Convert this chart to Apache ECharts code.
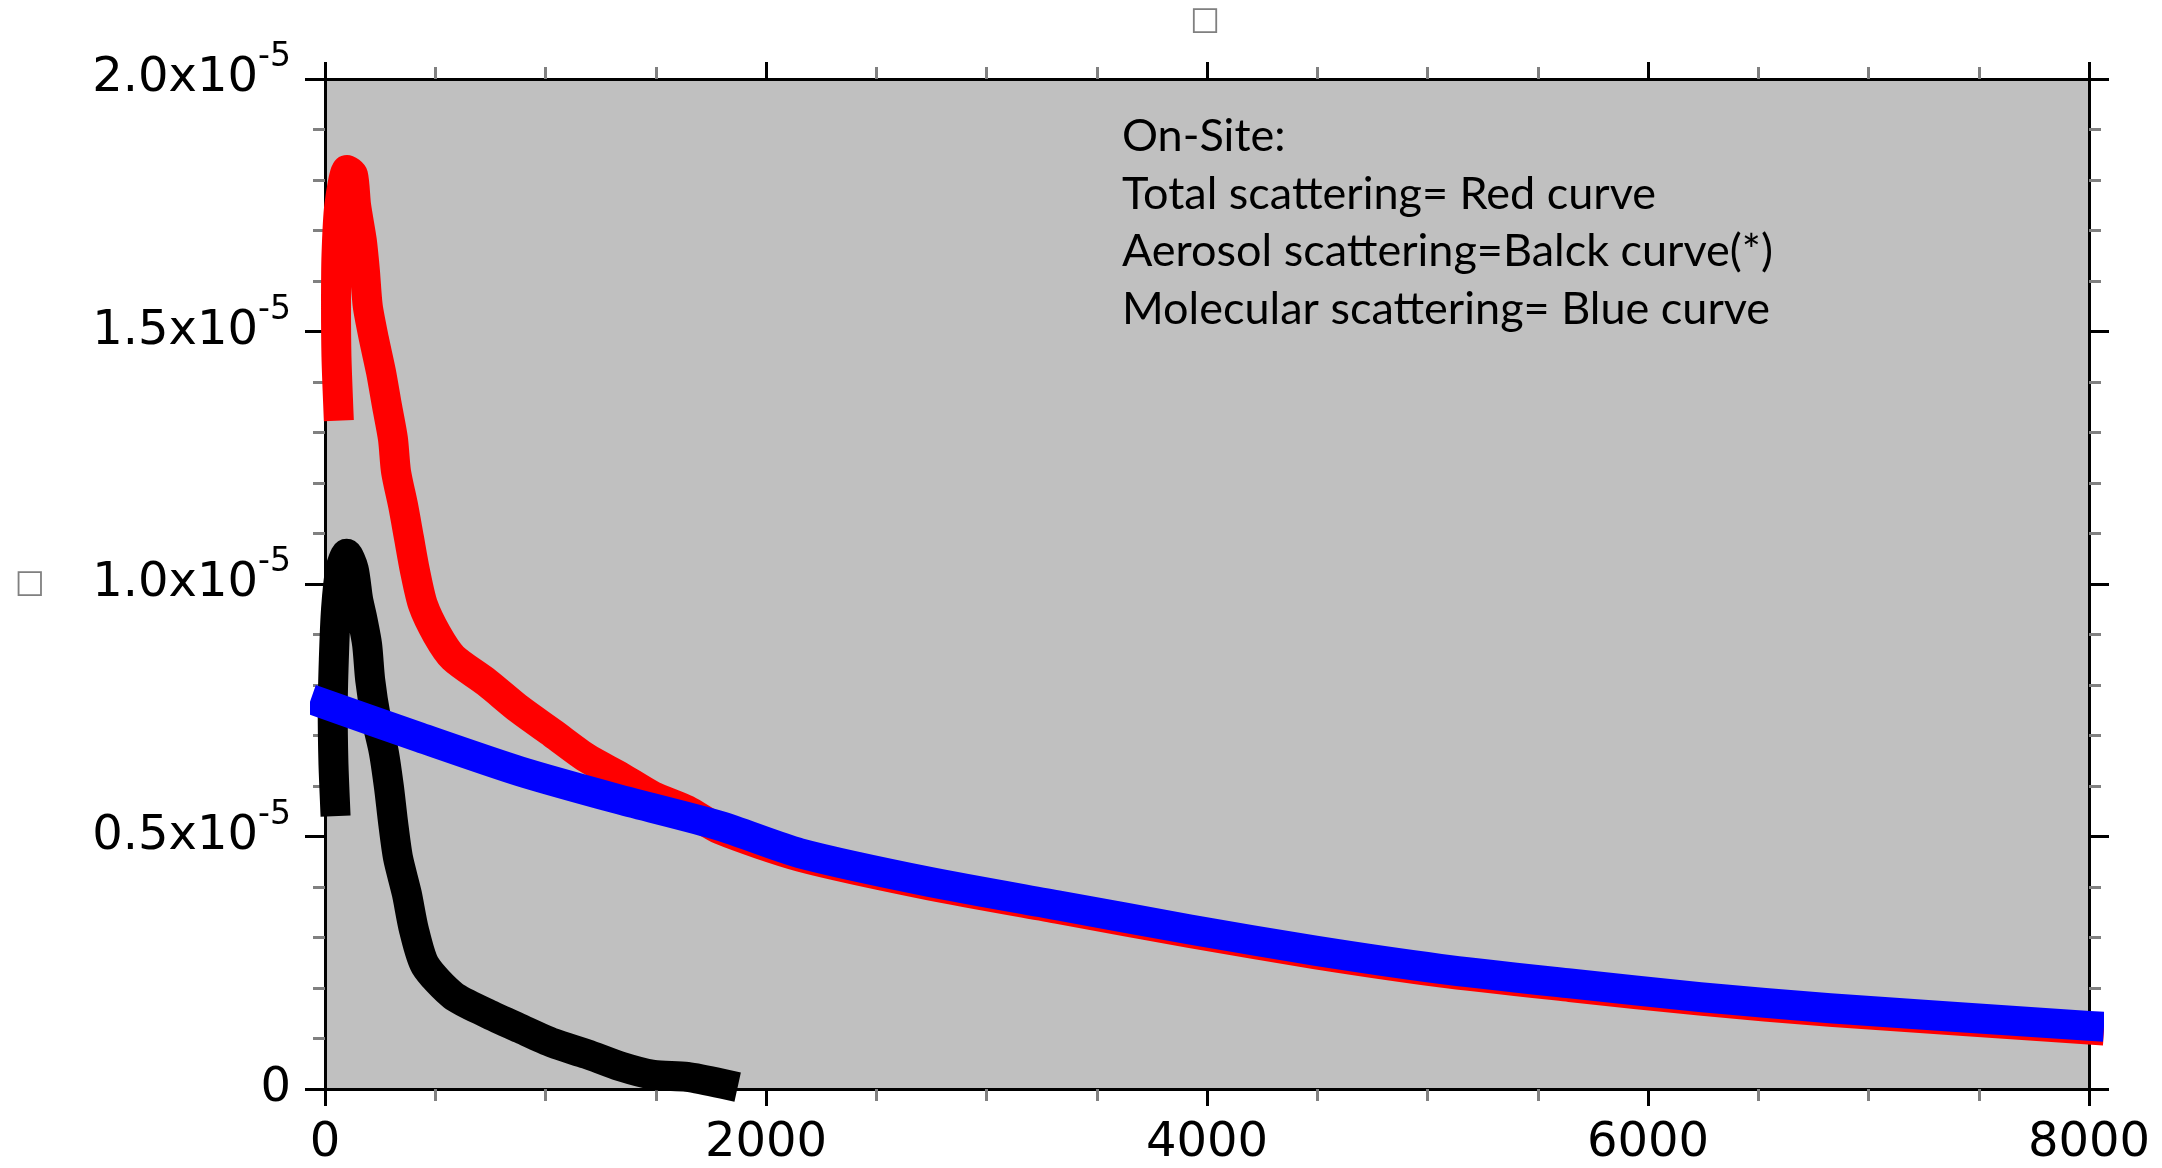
<!DOCTYPE html>
<html>
<head>
<meta charset="utf-8">
<title>On-Site scattering</title>
<script src="https://cdn.jsdelivr.net/npm/echarts@6/dist/echarts.min.js"></script>
<style>
html, body { margin: 0; padding: 0; background: #fff; }
#chart { width: 2162px; height: 1168px; }
</style>
</head>
<body>
<div id="chart"></div>
<script>
// values, y in units of 1e-5
const totalX = [60, 52, 50, 52, 65, 100, 127, 141, 167, 181, 194, 222, 254, 281, 308, 322, 354, 381, 408, 444, 508,
  581, 734, 884, 1034, 1188, 1338, 1488, 1642, 1791, 2154, 2744, 3333, 3923, 4490, 5057, 5646, 6236, 6825, 8000]
const totalY = [1.353, 1.45, 1.55, 1.65, 1.75, 1.82, 1.81, 1.75, 1.68, 1.62, 1.55, 1.485, 1.42, 1.353, 1.288, 1.223, 1.156, 1.091, 1.026, 0.959, 0.90,
  0.854, 0.805, 0.751, 0.704, 0.655, 0.619, 0.580, 0.552, 0.514, 0.460, 0.403, 0.356, 0.309, 0.267, 0.231, 0.202, 0.175, 0.153, 0.118]

const aerosolX = [45, 38, 35, 40, 50, 70, 98, 130, 150, 170, 191, 205, 230, 266, 290, 309, 331, 371, 403, 454,
  581, 734, 884, 1034, 1188, 1338, 1488, 1642, 1805]
const aerosolY = [0.57, 0.65, 0.75, 0.85, 0.95, 1.03, 1.06, 1.03, 0.97, 0.93, 0.88, 0.81, 0.738, 0.669, 0.598, 0.527, 0.458, 0.387, 0.316, 0.245,
  0.185, 0.150, 0.120, 0.091, 0.069, 0.045, 0.028, 0.024, 0.01]

const molecularX = [0, 431, 884, 1338, 1791, 2154, 2744, 3333, 3923, 4490, 5057, 5646, 6236, 6825, 8000]
const molecularY = [0.762, 0.696, 0.629, 0.573, 0.521, 0.467, 0.410, 0.363, 0.316, 0.274, 0.238, 0.209, 0.182, 0.160, 0.125]

const xTicks = { min: 0, max: 8000, interval: 2000 }
const yTicks = { min: 0, max: 2, interval: 0.5 }

const noteLines = [
  'On-Site:',
  'Total scattering= Red curve',
  'Aerosol scattering=Balck curve(*)',
  'Molecular scattering= Blue curve'
]

const zip = (xs, ys) => xs.map((x, i) => [x, ys[i]])

const chart = echarts.init(document.getElementById('chart'))

const axisFont = 'DejaVu Sans'
const axisLine = { show: true, onZero: false, lineStyle: { color: '#000', width: 3 } }
const minorTickStyle = { color: '#808080', width: 3 }

function xAxisOf(position, showLabel) {
  return {
    type: 'value',
    position,
    ...xTicks,
    axisLine,
    axisTick: { show: true, length: 17, lineStyle: { color: '#000', width: 3 } },
    minorTick: { show: true, splitNumber: 4, length: 12, lineStyle: minorTickStyle },
    splitLine: { show: false },
    axisLabel: {
      show: showLabel,
      margin: 31,
      color: '#000',
      fontSize: 48,
      fontFamily: axisFont,
      formatter: v => String(v)
    }
  }
}

function yAxisOf(position, showLabel) {
  return {
    type: 'value',
    position,
    ...yTicks,
    axisLine,
    axisTick: { show: true, length: 20, lineStyle: { color: '#000', width: 3 } },
    minorTick: { show: true, splitNumber: 5, length: 12, lineStyle: minorTickStyle },
    splitLine: { show: false },
    axisLabel: {
      show: showLabel,
      margin: 34,
      formatter: v => v === 0 ? '{m|0}' : '{m|' + v.toFixed(1) + 'x10}{s|-5}',
      rich: {
        m: { fontSize: 48, lineHeight: 48, fontFamily: axisFont, color: '#000', verticalAlign: 'bottom' },
        s: { fontSize: 33, lineHeight: 33, fontFamily: axisFont, color: '#000', verticalAlign: 'bottom', padding: [0, 0, 29, 0] }
      }
    }
  }
}

function band(name, xs, ys, color, z) {
  return {
    name,
    type: 'line',
    data: zip(xs, ys),
    showSymbol: false,
    smooth: 0.25,
    z,
    lineStyle: { color, width: 30, cap: 'square', join: 'round' }
  }
}

chart.setOption({
  animation: false,
  backgroundColor: '#fff',
  title: {
    text: '\u25A1',
    left: 1200,
    top: 0,
    textAlign: 'center',
    textStyle: { fontSize: 32, fontFamily: axisFont, fontWeight: 'normal', color: '#808080' }
  },
  grid: {
    left: 325,
    right: 73,
    top: 79,
    bottom: 75,
    show: true,
    backgroundColor: '#c0c0c0',
    borderWidth: 0
  },
  xAxis: [xAxisOf('bottom', true), xAxisOf('top', false)],
  yAxis: [
    {
      ...yAxisOf('left', true),
      name: '\u25A1',
      nameLocation: 'middle',
      nameRotate: 0,
      nameGap: 280,
      nameTextStyle: { fontSize: 32, fontFamily: axisFont, color: '#808080' }
    },
    yAxisOf('right', false)
  ],
  graphic: [{
    type: 'text',
    left: 1122,
    top: 108,
    z: 10,
    style: {
      text: noteLines.join('\n'),
      fontSize: 45,
      fontFamily: 'Lato',
      lineHeight: 57.5,
      fill: '#000'
    }
  }],
  series: [
    band('Aerosol scattering', aerosolX, aerosolY, '#000000', 2),
    band('Total scattering', totalX, totalY, '#ff0000', 3),
    band('Molecular scattering', molecularX, molecularY, '#0000ff', 4)
  ]
})
</script>
</body>
</html>
